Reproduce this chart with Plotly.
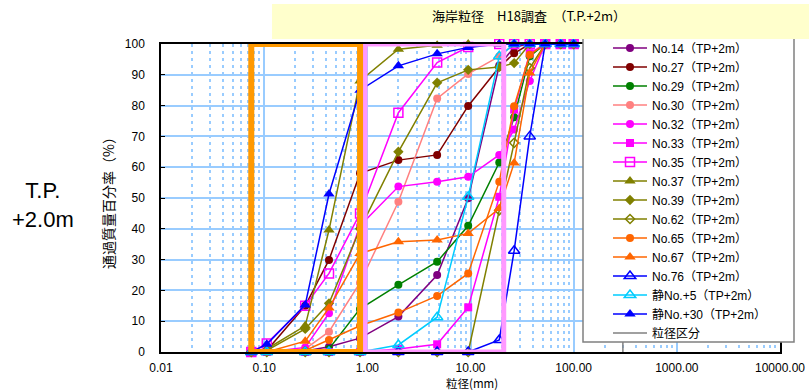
import plotly.graph_objects as go

# Sieve openings (mm)
sieve_mm = [0.075, 0.106, 0.25, 0.425, 0.85, 2.0, 4.75, 9.5, 19.0, 26.5, 37.5, 53.0, 75.0, 100.0]

# Percent passing (%) for each sampling point
no14 = [0, 0, 0.3, 1.7, 4.5, 11.5, 25.0, 49.9, 93.0, 99.0, 100, 100, 100, 100]
no27 = [0, 0.5, 15.0, 29.9, 58.0, 62.3, 64.0, 79.9, 92.5, 97.0, 100, 100, 100, 100]
no29 = [0, 0, 0, 1.0, 14.0, 21.8, 29.3, 41.0, 61.5, 76.2, 96.0, 100, 100, 100]
no30 = [0, 0, 1.0, 6.6, 22.5, 48.8, 82.3, 90.3, 96.0, 100, 100, 100, 100, 100]
no32 = [0, 0, 1.5, 12.6, 41.0, 53.7, 55.3, 56.9, 64.0, 72.2, 88.0, 100, 100, 100]
no33 = [0, 0, 0, 0, 0, 1.0, 2.5, 14.5, 50.4, 78.7, 97.0, 100, 100, 100]
no35 = [0, 2.8, 15.0, 25.5, 45.0, 77.7, 94.0, 99.0, 100, 100, 100, 100, 100, 100]
no37 = [0, 1.0, 8.5, 39.6, 88.0, 98.3, 99.6, 100, 100, 100, 100, 100, 100, 100]
no39 = [0, 0.5, 7.5, 15.8, 40.0, 65.0, 87.4, 91.6, 92.5, 93.8, 100, 100, 100, 100]
no62 = [0, 0, 0, 0, 0, 0, 0, 0, 46.0, 67.9, 92.2, 100, 100, 100]
no65 = [0, 0, 0.5, 3.9, 8.5, 12.8, 18.2, 25.5, 55.3, 79.8, 96.5, 100, 100, 100]
no67 = [0, 0, 3.5, 14.3, 32.0, 35.8, 36.4, 38.5, 46.6, 61.4, 90.6, 100, 100, 100]
no76 = [0, 0, 0, 0, 0, 0, 0, 0, 3.9, 32.9, 70.0, 100, 100, 100]
shizu_p5 = [0, 0, 0, 0, 0, 2.3, 11.3, 50.4, 96.0, 100, 100, 100, 100, 100]
shizu_p30 = [0, 2.5, 15.3, 51.3, 85.0, 92.9, 96.8, 98.9, 100, 100, 100, 100, 100, 100]

# Grain-size class boundaries (mm)
grain_class_mm = [0.075, 0.85, 300.0]

# Axis ticks
x_tickvals = [0.01, 0.1, 1, 10, 100, 1000, 10000]
x_ticktext = ["0.01", "0.10", "1.00", "10.00", "100.00", "1000.00", "10000.00"]
y_tickvals = [0, 10, 20, 30, 40, 50, 60, 70, 80, 90, 100]

# Series styling: (name, values, colour, symbol, marker size)
series = [
    ("No.14（TP+2m）", no14, "#800080", "circle", 8),
    ("No.27（TP+2m）", no27, "#800000", "circle", 8),
    ("No.29（TP+2m）", no29, "#008000", "circle", 8),
    ("No.30（TP+2m）", no30, "#FF8080", "circle", 8),
    ("No.32（TP+2m）", no32, "#FF00FF", "circle", 8),
    ("No.33（TP+2m）", no33, "#FF00FF", "square", 8),
    ("No.35（TP+2m）", no35, "#FF00FF", "square-open", 9),
    ("No.37（TP+2m）", no37, "#808000", "triangle-up", 10),
    ("No.39（TP+2m）", no39, "#808000", "diamond", 8),
    ("No.62（TP+2m）", no62, "#808000", "diamond-open", 7),
    ("No.65（TP+2m）", no65, "#FF6600", "circle", 8),
    ("No.67（TP+2m）", no67, "#FF6600", "triangle-up", 10),
    ("No.76（TP+2m）", no76, "#0000FF", "triangle-up-open", 10),
    ("静No.+5（TP+2m）", shizu_p5, "#00CCFF", "triangle-up-open", 10),
    ("静No.+30（TP+2m）", shizu_p30, "#0000FF", "triangle-up", 10),
]

FIG_W, FIG_H = 809, 391
M_L, M_R, M_T, M_B = 161, 29, 44, 39
PW = FIG_W - M_L - M_R
PH = FIG_H - M_T - M_B


def px_x(px):
    return (px - M_L) / PW


def px_y(py):
    return (FIG_H - M_B - py) / PH


LATIN = "Liberation Sans, Arial, Noto Sans CJK JP"
CJK = "Noto Sans CJK JP, Liberation Sans"

fig = go.Figure()

for name, vals, color, symbol, size in series:
    is_open = symbol.endswith("-open")
    fig.add_trace(go.Scatter(
        x=sieve_mm, y=vals, name=name, mode="lines+markers",
        line=dict(color=color, width=1.5),
        marker=dict(symbol=symbol, size=size, color=color,
                    line=dict(color=color, width=1.5 if is_open else 0)),
        cliponaxis=False,
    ))

# Grain-size class divisions as vertical lines
gx, gy = [], []
for b in grain_class_mm:
    gx += [b, b, None]
    gy += [0, 100, None]
fig.add_trace(go.Scatter(
    x=gx, y=gy, name="粒径区分", mode="lines",
    line=dict(color="#808080", width=1.5),
))

shapes = [
    # coarse sand / gravel highlight
    dict(type="rect", xref="x", yref="y", x0=0.95, x1=21.0,
         y0=0, y1=100, line=dict(color="#FF99FF", width=5), layer="above"),
    # fine / medium sand highlight
    dict(type="rect", xref="x", yref="y", x0=0.075, x1=0.85,
         y0=0, y1=100, line=dict(color="#FF9900", width=6), layer="above"),
    # legend panel
    dict(type="rect", xref="paper", yref="paper", x0=px_x(583), x1=px_x(794),
         y0=px_y(342), y1=px_y(30), fillcolor="white",
         line=dict(color="#808080", width=1.5), layer="above"),
    # title banner
    dict(type="rect", xref="paper", yref="paper", x0=px_x(272), x1=px_x(812),
         y0=px_y(39), y1=px_y(4), fillcolor="#FFFFCC",
         line=dict(width=0), layer="above"),
]

annotations = [
    dict(text="海岸粒径　H18調査　（T.P.+2m）", xref="paper", yref="paper",
         x=px_x(529), y=px_y(15), xanchor="center", yanchor="middle",
         showarrow=False, font=dict(family=CJK, size=13, color="black")),
    dict(text="通過質量百分率（%）", xref="paper", yref="paper",
         x=px_x(108), y=px_y(200), xanchor="center", yanchor="middle",
         textangle=-90, showarrow=False, font=dict(family=CJK, size=14, color="black")),
    dict(text="粒径(mm)", xref="paper", yref="paper",
         x=px_x(472), y=px_y(383), xanchor="center", yanchor="middle",
         showarrow=False, font=dict(family=CJK, size=11.5, color="black")),
    dict(text="T.P.<br>+2.0m", xref="paper", yref="paper",
         x=px_x(43), y=px_y(205), xanchor="center", yanchor="middle", align="center",
         showarrow=False, font=dict(family=LATIN, size=22, color="black")),
]

minor_x = [m * 10 ** e for e in range(-2, 4) for m in range(2, 10)]

fig.update_layout(
    width=FIG_W, height=FIG_H,
    margin=dict(l=M_L, r=M_R, t=M_T, b=M_B, autoexpand=False),
    paper_bgcolor="white", plot_bgcolor="white",
    showlegend=True,
    legend=dict(x=px_x(608), y=px_y(33.5), xanchor="left", yanchor="top",
                bgcolor="rgba(0,0,0,0)", borderwidth=0, itemwidth=34,
                maxheight=400,
                font=dict(family=LATIN, size=12, color="black"),
                tracegroupgap=0),
    xaxis=dict(
        type="log", range=[-2, 4],
        tickmode="array", tickvals=x_tickvals, ticktext=x_ticktext,
        showgrid=True, gridcolor="#99CCFF", gridwidth=1.5,
        minor=dict(tickmode="array", tickvals=minor_x, showgrid=True,
                   gridcolor="#99CCFF", gridwidth=1.5, griddash="3px,4px", ticks=""),
        showline=True, linecolor="black", linewidth=1.5, mirror=True,
        ticks="", ticklabelstandoff=4, zeroline=False,
        tickfont=dict(family=LATIN, size=12, color="black"),
    ),
    yaxis=dict(
        range=[0, 100], tickmode="array", tickvals=y_tickvals,
        showgrid=True, gridcolor="#99CCFF", gridwidth=1.5,
        showline=True, linecolor="black", linewidth=1.5, mirror=True,
        ticks="inside", ticklen=4, tickcolor="black", ticklabelstandoff=12,
        zeroline=False,
        tickfont=dict(family=LATIN, size=12, color="black"),
    ),
    shapes=shapes,
    annotations=annotations,
)

fig.write_html("out.html")
